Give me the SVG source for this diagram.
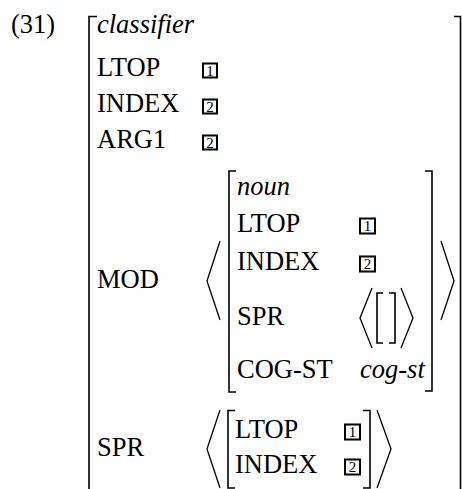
<svg xmlns="http://www.w3.org/2000/svg" width="462" height="489" viewBox="0 0 462 489">
<style>
.t{font-family:'Liberation Serif','Times New Roman',serif;font-size:26.5px;fill:#000}
.it{font-style:italic}
.num{font-size:15px;text-anchor:middle}
.br{fill:none;stroke:#000;stroke-width:1.6}
.ang{fill:none;stroke:#000;stroke-width:1.3}
.tag{fill:none;stroke:#000;stroke-width:2}
</style>
<rect width="462" height="489" fill="#fff"/>
<g id="label"><text class="t" x="11" y="33">(31)</text></g>
<g id="connectors">
<path class="br" d="M97,16.5 H89 V489"/>
<path class="br" d="M454,16.5 H460.5 V489"/>
</g>
<g id="outer-type"><text class="t it" x="97" y="33">classifier</text></g>
<g id="outer-ltop"><text class="t" x="97" y="76">LTOP</text><rect class="tag" x="203" y="63.5" width="14" height="14"/><text class="t num" x="210" y="75.7">1</text></g>
<g id="outer-index"><text class="t" x="97" y="112">INDEX</text><rect class="tag" x="203" y="99.5" width="14" height="14"/><text class="t num" x="210" y="111.7">2</text></g>
<g id="outer-arg1"><text class="t" x="97" y="148">ARG1</text><rect class="tag" x="203" y="135.5" width="14" height="14"/><text class="t num" x="210" y="147.7">2</text></g>
<g id="mod">
<text class="t" x="97" y="288">MOD</text>
<polyline class="ang" points="220,241 207,281 220,320"/>
<path class="br" d="M236,171 H229 V392 H236"/>
<path class="br" d="M425,171 H432 V391 H425"/>
<polyline class="ang" points="441,241 454,281 441,320"/>
<text class="t it" x="237" y="195">noun</text>
<text class="t" x="237" y="232">LTOP</text><rect class="tag" x="360" y="218.5" width="15" height="15"/><text class="t num" x="367.5" y="231.2">1</text>
<text class="t" x="237" y="270">INDEX</text><rect class="tag" x="360" y="256.5" width="15" height="15"/><text class="t num" x="367.5" y="269.2">2</text>
<text class="t" x="237" y="325">SPR</text>
<polyline class="ang" points="372,288 360,318 372,348"/>
<path class="br" d="M383,293 H377 V343 H383"/>
<path class="br" d="M389,293 H395 V343 H389"/>
<polyline class="ang" points="401,288 413,318 401,348"/>
<text class="t" x="237" y="378">COG-ST</text>
<text class="t it" x="360" y="378">cog-st</text>
</g>
<g id="spr">
<text class="t" x="97" y="456">SPR</text>
<polyline class="ang" points="220,410 207,449 220,488"/>
<path class="br" d="M235,410.5 H228 V488 H235"/>
<path class="br" d="M363,410.5 H370 V488 H363"/>
<polyline class="ang" points="377,410 391,449 377,488"/>
<text class="t" x="235" y="438">LTOP</text><rect class="tag" x="345" y="424.5" width="15" height="15"/><text class="t num" x="352.5" y="437.2">1</text>
<text class="t" x="235" y="473">INDEX</text><rect class="tag" x="345" y="459.5" width="15" height="15"/><text class="t num" x="352.5" y="472.2">2</text>
</g>
</svg>
